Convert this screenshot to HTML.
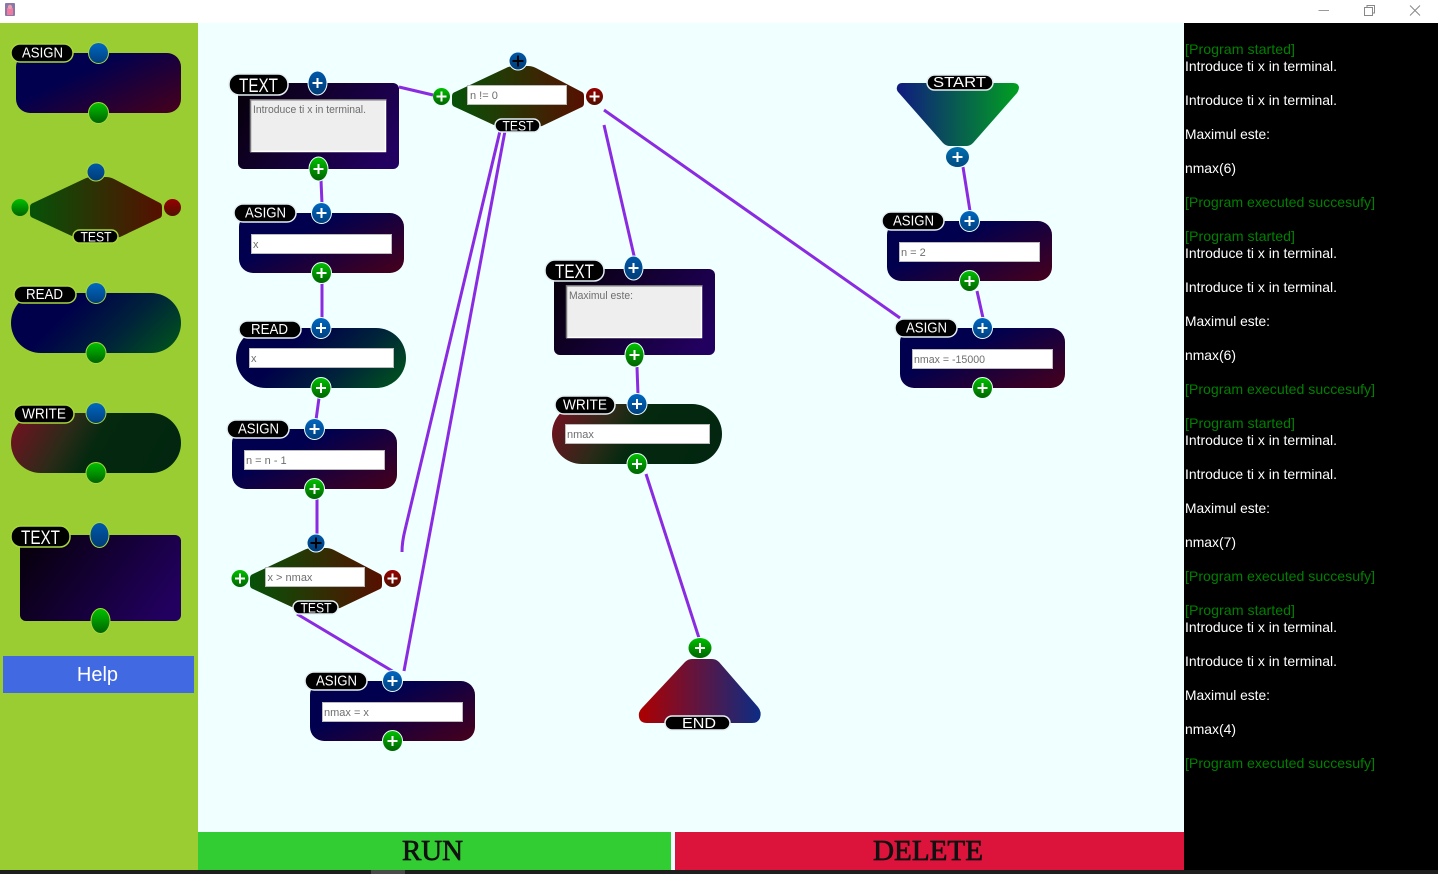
<!DOCTYPE html>
<html><head><meta charset="utf-8"><title>Flow</title>
<style>
html,body{margin:0;padding:0;background:#fff;overflow:hidden}
svg{display:block;font-family:"Liberation Sans",sans-serif}
.l{fill:#fff;font-size:15px;text-anchor:middle}
.l:not([style]){transform:translateY(-1px)}
.i{fill:#fff;stroke:#bbb;stroke-width:1}
.v{fill:#6e6e6e;font-size:11px}
.t{fill:#fff;font-size:14px}
.g{fill:#008000;font-size:14px}
.c{fill:none;stroke:#8a2be2;stroke-width:3}
ellipse{paint-order:stroke}
.pa ellipse{stroke:#a8d63f;stroke-width:2}
.pa rect.p{stroke:#a8d63f;stroke-width:1.5}
.ca ellipse{stroke:#f0ffff;stroke-width:2}
.ca rect.p{stroke:#e4f0f4;stroke-width:1.5}
.p{fill:#000}
.ta{fill:#eee;stroke:none}
.s1{fill:none;stroke:#777;stroke-width:1.5}
.s2{fill:none;stroke:#fff;stroke-width:1.5}
</style></head><body>
<svg width="1438" height="874" viewBox="0 0 1438 874" xmlns="http://www.w3.org/2000/svg">
<defs>
<linearGradient id="ga" x1="0.35" y1="0.35" x2="1" y2="0.85"><stop offset="0" stop-color="#00004f"/><stop offset="1" stop-color="#400020"/></linearGradient>
<linearGradient id="gr" x1="0.3" y1="0.4" x2="1" y2="0.65"><stop offset="0" stop-color="#00004a"/><stop offset="0.55" stop-color="#00233a"/><stop offset="1" stop-color="#004a22"/></linearGradient>
<linearGradient id="gw" x1="0" y1="0.4" x2="1" y2="0.6"><stop offset="0" stop-color="#6a1420"/><stop offset="0.3" stop-color="#2c2a18"/><stop offset="0.5" stop-color="#04290f"/><stop offset="1" stop-color="#02260f"/></linearGradient>
<linearGradient id="gx" x1="0" y1="0.3" x2="1" y2="0.7"><stop offset="0" stop-color="#08000f"/><stop offset="1" stop-color="#220060"/></linearGradient>
<linearGradient id="gt" x1="0" y1="0" x2="1" y2="0"><stop offset="0" stop-color="#065208"/><stop offset="1" stop-color="#561000"/></linearGradient>
<linearGradient id="gs" x1="0" y1="0" x2="1" y2="0"><stop offset="0" stop-color="#101a80"/><stop offset="1" stop-color="#00a020"/></linearGradient>
<linearGradient id="ge" x1="0" y1="0" x2="1" y2="0"><stop offset="0" stop-color="#ae0000"/><stop offset="1" stop-color="#0c2c84"/></linearGradient>
<linearGradient id="bl" x1="0" y1="0" x2="0" y2="1"><stop offset="0" stop-color="#0068c0"/><stop offset="1" stop-color="#004080"/></linearGradient>
<linearGradient id="bd" x1="0" y1="0" x2="0" y2="1"><stop offset="0" stop-color="#0058a8"/><stop offset="1" stop-color="#003c78"/></linearGradient>
<linearGradient id="gn" x1="0" y1="0" x2="0" y2="1"><stop offset="0" stop-color="#00c000"/><stop offset="1" stop-color="#006400"/></linearGradient>
<linearGradient id="rd" x1="0" y1="0" x2="0" y2="1"><stop offset="0" stop-color="#980000"/><stop offset="1" stop-color="#501000"/></linearGradient>
<linearGradient id="tl" x1="0" y1="0" x2="0" y2="1"><stop offset="0" stop-color="#0070b0"/><stop offset="1" stop-color="#004a80"/></linearGradient>
<path id="tb" d="M0 25Q0 22 3 21L54 -3Q58 -5 62 -5H76Q80 -5 84 -3L130 21Q132 22 132 25V32Q132 35 130 36L90 55Q86 56 82 56H52Q48 56 44 55L3 36Q0 35 0 32Z" fill="url(#gt)"/>
<path id="pw" d="M-5 0H5M0-5V5" stroke="#fff" stroke-width="2" fill="none"/>
<path id="pk" d="M-5.500 0H5.500M0-5.500V5.500" stroke="#000" stroke-width="2" fill="none"/>
</defs>

<!-- window -->
<rect width="1438" height="23" fill="#fff"/>
<rect x="5" y="3" width="10" height="13" rx="1" fill="#8a78a8"/>
<rect x="7" y="8" width="6" height="7" fill="#f07aa0"/>
<circle cx="10" cy="7" r="2.200" fill="#e8a0b0"/>
<path d="M1318.500 10.500H1329" stroke="#999" stroke-width="1"/>
<path d="M1364.500 7.500H1372.500V15.500H1364.500ZM1367 7.500V5.500H1374.500V13H1372.500" fill="none" stroke="#888" stroke-width="1"/>
<path d="M1410 5.500L1420 15.500M1420 5.500L1410 15.500" stroke="#888" stroke-width="1"/>

<!-- regions -->
<rect y="23" width="198" height="851" fill="#9acd32"/>
<rect x="198" y="23" width="986" height="851" fill="#f0ffff"/>
<rect x="1184" y="23" width="254" height="851" fill="#000"/>
<rect x="198" y="832" width="473" height="38" fill="#32cd32"/>
<rect x="675" y="832" width="509" height="38" fill="#dc143c"/>
<rect y="870" width="1438" height="4" fill="#1e1e1e"/>
<rect x="371" y="870" width="34" height="4" fill="#4a4a4a"/>
<text x="402" y="860" font-family="Liberation Serif" font-size="28" fill="#111" stroke="#111" stroke-width=".7" textLength="61" lengthAdjust="spacingAndGlyphs">RUN</text>
<text x="873" y="860" font-family="Liberation Serif" font-size="28" fill="#111" stroke="#111" stroke-width=".7" textLength="110" lengthAdjust="spacingAndGlyphs">DELETE</text>
<rect x="3" y="656" width="191" height="37" fill="#4169e1"/>
<text x="97.500" y="681" fill="#fff" font-size="20" text-anchor="middle">Help</text>

<!-- palette -->
<g class="pa">
<rect x="16" y="53" width="165" height="60" rx="14" fill="url(#ga)"/>
<rect class="p" x="11" y="44" width="62" height="18" rx="9"/><text class="l" x="42.500" y="58.500" textLength="41" lengthAdjust="spacingAndGlyphs">ASIGN</text>
<ellipse cx="98.500" cy="53" rx="9.500" ry="10" fill="url(#bl)"/><ellipse cx="98.500" cy="113" rx="9.500" ry="10" fill="url(#gn)"/>

<use href="#tb" x="30" y="182"/>
<rect class="p" x="73" y="230" width="45" height="13" rx="6.500"/><text class="l" x="96" y="241.500" style="font-size:13.500px" textLength="31" lengthAdjust="spacingAndGlyphs">TEST</text>
<ellipse cx="96" cy="172" rx="8.500" ry="8.500" fill="url(#bd)"/>
<ellipse cx="20" cy="207.500" rx="8.500" ry="8.500" fill="url(#gn)" style="stroke:none"/>
<ellipse cx="172.500" cy="207.500" rx="8.500" ry="8.500" fill="url(#rd)" style="stroke:none"/>

<rect x="11" y="293" width="170" height="60" rx="30" fill="url(#gr)"/>
<rect class="p" x="14" y="286" width="62" height="17" rx="8.500"/><text class="l" x="44.500" y="300" textLength="37" lengthAdjust="spacingAndGlyphs">READ</text>
<ellipse cx="96" cy="293" rx="9.500" ry="10" fill="url(#bl)"/><ellipse cx="96" cy="353" rx="9.500" ry="10" fill="url(#gn)"/>

<rect x="11" y="413" width="170" height="60" rx="30" fill="url(#gw)"/>
<rect class="p" x="14" y="405" width="60" height="18" rx="9"/><text class="l" x="44" y="419.500" textLength="44" lengthAdjust="spacingAndGlyphs">WRITE</text>
<ellipse cx="96" cy="413" rx="9.500" ry="10" fill="url(#bl)"/><ellipse cx="96" cy="473" rx="9.500" ry="10" fill="url(#gn)"/>

<rect x="20" y="535" width="161" height="86" rx="6" fill="url(#gx)"/>
<rect class="p" x="11" y="526" width="59" height="21" rx="10"/><text class="l" x="40.500" y="544" style="font-size:19.500px" textLength="39" lengthAdjust="spacingAndGlyphs">TEXT</text>
<ellipse cx="99.500" cy="535" rx="9" ry="12" fill="url(#bd)"/><ellipse cx="100.500" cy="621" rx="9" ry="12" fill="url(#gn)"/>
</g>

<!-- connectors -->
<g class="c">
<path d="M399 87L433 95"/>
<path d="M321 180L322 204"/>
<path d="M322 283V320"/>
<path d="M319 398L316 420"/>
<path d="M317 499V534"/>
<path d="M500 131L405 530Q402 542 402 552"/>
<path d="M505 131L404 671"/>
<path d="M297 614L394 672"/>
<path d="M604 110L900 318"/>
<path d="M604 125L635 260"/>
<path d="M637 367L638 395"/>
<path d="M646 474L699 638"/>
<path d="M963 167L970 211"/>
<path d="M977 291L983 318"/>
</g>

<!-- canvas blocks -->
<g class="ca">

<!-- TEXT 1 -->
<rect x="238" y="83" width="161" height="86" rx="6" fill="url(#gx)"/>
<rect class="ta" x="250" y="99" width="136" height="53"/>
<path class="s2" d="M250 151.500H385.500V99"/><path class="s1" d="M250.500 152V99.700H386"/>
<text class="v" x="253" y="113" textLength="113" lengthAdjust="spacingAndGlyphs">Introduce ti x in terminal.</text>
<rect class="p" x="229" y="74" width="59" height="21" rx="10"/><text class="l" x="258.500" y="92" style="font-size:19.500px" textLength="39" lengthAdjust="spacingAndGlyphs">TEXT</text>
<ellipse cx="317.500" cy="83" rx="9" ry="11.500" fill="url(#bd)"/><use href="#pw" x="317.500" y="83"/>
<ellipse cx="318.500" cy="169" rx="9" ry="11.500" fill="url(#gn)"/><use href="#pw" x="318.500" y="169"/>

<!-- ASIGN x -->
<rect x="239" y="213" width="165" height="60" rx="14" fill="url(#ga)"/>
<rect class="i" x="251.500" y="234.500" width="140" height="19"/><text class="v" x="253" y="248">x</text>
<rect class="p" x="234" y="204" width="62" height="18" rx="9"/><text class="l" x="265.500" y="218.500" textLength="41" lengthAdjust="spacingAndGlyphs">ASIGN</text>
<ellipse cx="321.500" cy="213" rx="9.500" ry="10" fill="url(#bl)"/><use href="#pw" x="321.500" y="213"/>
<ellipse cx="321.500" cy="273" rx="9.500" ry="10" fill="url(#gn)"/><use href="#pw" x="321.500" y="273"/>

<!-- READ -->
<rect x="236" y="328" width="170" height="60" rx="30" fill="url(#gr)"/>
<rect class="i" x="249.500" y="348.500" width="144" height="19"/><text class="v" x="251" y="362">x</text>
<rect class="p" x="239" y="321" width="62" height="17" rx="8.500"/><text class="l" x="269.500" y="335" textLength="37" lengthAdjust="spacingAndGlyphs">READ</text>
<ellipse cx="321" cy="328" rx="9.500" ry="10" fill="url(#bl)"/><use href="#pw" x="321" y="328"/>
<ellipse cx="321" cy="388" rx="9.500" ry="10" fill="url(#gn)"/><use href="#pw" x="321" y="388"/>

<!-- ASIGN n = n - 1 -->
<rect x="232" y="429" width="165" height="60" rx="14" fill="url(#ga)"/>
<rect class="i" x="244.500" y="450.500" width="140" height="19"/><text class="v" x="246" y="464">n = n - 1</text>
<rect class="p" x="227" y="420" width="62" height="18" rx="9"/><text class="l" x="258.500" y="434.500" textLength="41" lengthAdjust="spacingAndGlyphs">ASIGN</text>
<ellipse cx="314.500" cy="429" rx="9.500" ry="10" fill="url(#bl)"/><use href="#pw" x="314.500" y="429"/>
<ellipse cx="314.500" cy="489" rx="9.500" ry="10" fill="url(#gn)"/><use href="#pw" x="314.500" y="489"/>

<!-- TEST n != 0 -->
<use href="#tb" x="452" y="71"/>
<rect class="i" x="467.500" y="85.500" width="99" height="19"/><text class="v" x="470" y="99">n != 0</text>
<rect class="p" x="495" y="119" width="45" height="13" rx="6.500"/><text class="l" x="518" y="130.500" style="font-size:13.500px" textLength="31" lengthAdjust="spacingAndGlyphs">TEST</text>
<ellipse cx="518" cy="61" rx="8.500" ry="8.500" fill="url(#bd)"/><use href="#pk" x="518" y="61"/>
<ellipse cx="441.500" cy="96.500" rx="8.500" ry="8.500" fill="url(#gn)" style="stroke:none"/><use href="#pw" x="441.500" y="96.500"/>
<ellipse cx="594.500" cy="96.500" rx="8.500" ry="8.500" fill="url(#rd)" style="stroke:none"/><use href="#pw" x="594.500" y="96.500"/>

<!-- TEST x > nmax -->
<use href="#tb" x="250" y="553"/>
<rect class="i" x="265.500" y="567.500" width="99" height="19"/><text class="v" x="267.500" y="581">x &gt; nmax</text>
<rect class="p" x="293" y="601" width="45" height="13" rx="6.500"/><text class="l" x="316" y="612.500" style="font-size:13.500px" textLength="31" lengthAdjust="spacingAndGlyphs">TEST</text>
<ellipse cx="316" cy="543" rx="8.500" ry="8.500" fill="url(#bd)"/><use href="#pk" x="316" y="543"/>
<ellipse cx="240" cy="578.500" rx="8.500" ry="8.500" fill="url(#gn)" style="stroke:none"/><use href="#pw" x="240" y="578.500"/>
<ellipse cx="392.500" cy="578.500" rx="8.500" ry="8.500" fill="url(#rd)" style="stroke:none"/><use href="#pw" x="392.500" y="578.500"/>

<!-- ASIGN nmax = x -->
<rect x="310" y="681" width="165" height="60" rx="14" fill="url(#ga)"/>
<rect class="i" x="322.500" y="702.500" width="140" height="19"/><text class="v" x="324" y="716">nmax = x</text>
<rect class="p" x="305" y="672" width="62" height="18" rx="9"/><text class="l" x="336.500" y="686.500" textLength="41" lengthAdjust="spacingAndGlyphs">ASIGN</text>
<ellipse cx="392.500" cy="681" rx="9.500" ry="10" fill="url(#bl)"/><use href="#pw" x="392.500" y="681"/>
<ellipse cx="392.500" cy="741" rx="9.500" ry="10" fill="url(#gn)"/><use href="#pw" x="392.500" y="741"/>

<!-- TEXT 2 -->
<rect x="554" y="269" width="161" height="86" rx="6" fill="url(#gx)"/>
<rect class="ta" x="566" y="285" width="136" height="53"/>
<path class="s2" d="M566 337.500H701.500V285"/><path class="s1" d="M566.500 338V285.700H702"/>
<text class="v" x="569" y="299" textLength="64" lengthAdjust="spacingAndGlyphs">Maximul este:</text>
<rect class="p" x="545" y="260" width="59" height="21" rx="10"/><text class="l" x="574.500" y="278" style="font-size:19.500px" textLength="39" lengthAdjust="spacingAndGlyphs">TEXT</text>
<ellipse cx="633.500" cy="268" rx="9" ry="11.500" fill="url(#bd)"/><use href="#pw" x="633.500" y="268"/>
<ellipse cx="634.500" cy="355" rx="9" ry="11.500" fill="url(#gn)"/><use href="#pw" x="634.500" y="355"/>

<!-- WRITE -->
<rect x="552" y="404" width="170" height="60" rx="30" fill="url(#gw)"/>
<rect class="i" x="565.500" y="424.500" width="144" height="19"/><text class="v" x="567" y="438">nmax</text>
<rect class="p" x="555" y="396" width="60" height="18" rx="9"/><text class="l" x="585" y="410.500" textLength="44" lengthAdjust="spacingAndGlyphs">WRITE</text>
<ellipse cx="637" cy="404" rx="9.500" ry="10" fill="url(#bl)"/><use href="#pw" x="637" y="404"/>
<ellipse cx="637" cy="464" rx="9.500" ry="10" fill="url(#gn)"/><use href="#pw" x="637" y="464"/>

<!-- END -->
<path d="M685 662Q688 659 692 659H712Q716 659 719 662L758 707Q762 712 760 718Q758 723 752 723H647Q640 723 639 717Q638 712 642 708Z" fill="url(#ge)"/>
<rect class="p" x="665" y="716" width="65" height="14" rx="7"/><text class="l" x="699" y="729" textLength="34" lengthAdjust="spacingAndGlyphs">END</text>
<ellipse cx="700" cy="648" rx="11.500" ry="10" fill="url(#gn)"/><use href="#pw" x="700" y="648"/>

<!-- START -->
<path d="M902 83H1013Q1018 83 1019 87Q1019 90 1017 93L973 143Q970 146 966 146H950Q946 146 943 143L899 93Q896 90 897 87Q898 83 902 83Z" fill="url(#gs)"/>
<rect class="p" x="927" y="75" width="66" height="15" rx="7.500"/><text class="l" x="959.500" y="88" textLength="53" lengthAdjust="spacingAndGlyphs">START</text>
<ellipse cx="957.500" cy="157" rx="11.500" ry="10" fill="url(#tl)"/><use href="#pw" x="957.500" y="157"/>

<!-- ASIGN n = 2 -->
<rect x="887" y="221" width="165" height="60" rx="14" fill="url(#ga)"/>
<rect class="i" x="899.500" y="242.500" width="140" height="19"/><text class="v" x="901" y="256">n = 2</text>
<rect class="p" x="882" y="212" width="62" height="18" rx="9"/><text class="l" x="913.500" y="226.500" textLength="41" lengthAdjust="spacingAndGlyphs">ASIGN</text>
<ellipse cx="969.500" cy="221" rx="9.500" ry="10" fill="url(#bl)"/><use href="#pw" x="969.500" y="221"/>
<ellipse cx="969.500" cy="281" rx="9.500" ry="10" fill="url(#gn)"/><use href="#pw" x="969.500" y="281"/>

<!-- ASIGN nmax = -15000 -->
<rect x="900" y="328" width="165" height="60" rx="14" fill="url(#ga)"/>
<rect class="i" x="912.500" y="349.500" width="140" height="19"/><text class="v" x="914" y="363" textLength="71" lengthAdjust="spacingAndGlyphs">nmax = -15000</text>
<rect class="p" x="895" y="319" width="62" height="18" rx="9"/><text class="l" x="926.500" y="333.500" textLength="41" lengthAdjust="spacingAndGlyphs">ASIGN</text>
<ellipse cx="982.500" cy="328" rx="9.500" ry="10" fill="url(#bl)"/><use href="#pw" x="982.500" y="328"/>
<ellipse cx="982.500" cy="388" rx="9.500" ry="10" fill="url(#gn)"/><use href="#pw" x="982.500" y="388"/>
</g>

<!-- terminal -->
<g>
<text class="g" x="1185" y="54" textLength="110" lengthAdjust="spacingAndGlyphs">[Program started]</text>
<text class="t" x="1185" y="71" textLength="152" lengthAdjust="spacingAndGlyphs">Introduce ti x in terminal.</text>
<text class="t" x="1185" y="105" textLength="152" lengthAdjust="spacingAndGlyphs">Introduce ti x in terminal.</text>
<text class="t" x="1185" y="139" textLength="85" lengthAdjust="spacingAndGlyphs">Maximul este:</text>
<text class="t" x="1185" y="173" textLength="51" lengthAdjust="spacingAndGlyphs">nmax(6)</text>
<text class="g" x="1185" y="207" textLength="190" lengthAdjust="spacingAndGlyphs">[Program executed succesufy]</text>

<text class="g" x="1185" y="241" textLength="110" lengthAdjust="spacingAndGlyphs">[Program started]</text>
<text class="t" x="1185" y="258" textLength="152" lengthAdjust="spacingAndGlyphs">Introduce ti x in terminal.</text>
<text class="t" x="1185" y="292" textLength="152" lengthAdjust="spacingAndGlyphs">Introduce ti x in terminal.</text>
<text class="t" x="1185" y="326" textLength="85" lengthAdjust="spacingAndGlyphs">Maximul este:</text>
<text class="t" x="1185" y="360" textLength="51" lengthAdjust="spacingAndGlyphs">nmax(6)</text>
<text class="g" x="1185" y="394" textLength="190" lengthAdjust="spacingAndGlyphs">[Program executed succesufy]</text>

<text class="g" x="1185" y="428" textLength="110" lengthAdjust="spacingAndGlyphs">[Program started]</text>
<text class="t" x="1185" y="445" textLength="152" lengthAdjust="spacingAndGlyphs">Introduce ti x in terminal.</text>
<text class="t" x="1185" y="479" textLength="152" lengthAdjust="spacingAndGlyphs">Introduce ti x in terminal.</text>
<text class="t" x="1185" y="513" textLength="85" lengthAdjust="spacingAndGlyphs">Maximul este:</text>
<text class="t" x="1185" y="547" textLength="51" lengthAdjust="spacingAndGlyphs">nmax(7)</text>
<text class="g" x="1185" y="581" textLength="190" lengthAdjust="spacingAndGlyphs">[Program executed succesufy]</text>

<text class="g" x="1185" y="615" textLength="110" lengthAdjust="spacingAndGlyphs">[Program started]</text>
<text class="t" x="1185" y="632" textLength="152" lengthAdjust="spacingAndGlyphs">Introduce ti x in terminal.</text>
<text class="t" x="1185" y="666" textLength="152" lengthAdjust="spacingAndGlyphs">Introduce ti x in terminal.</text>
<text class="t" x="1185" y="700" textLength="85" lengthAdjust="spacingAndGlyphs">Maximul este:</text>
<text class="t" x="1185" y="734" textLength="51" lengthAdjust="spacingAndGlyphs">nmax(4)</text>
<text class="g" x="1185" y="768" textLength="190" lengthAdjust="spacingAndGlyphs">[Program executed succesufy]</text>
</g>
</svg>
</body></html>
